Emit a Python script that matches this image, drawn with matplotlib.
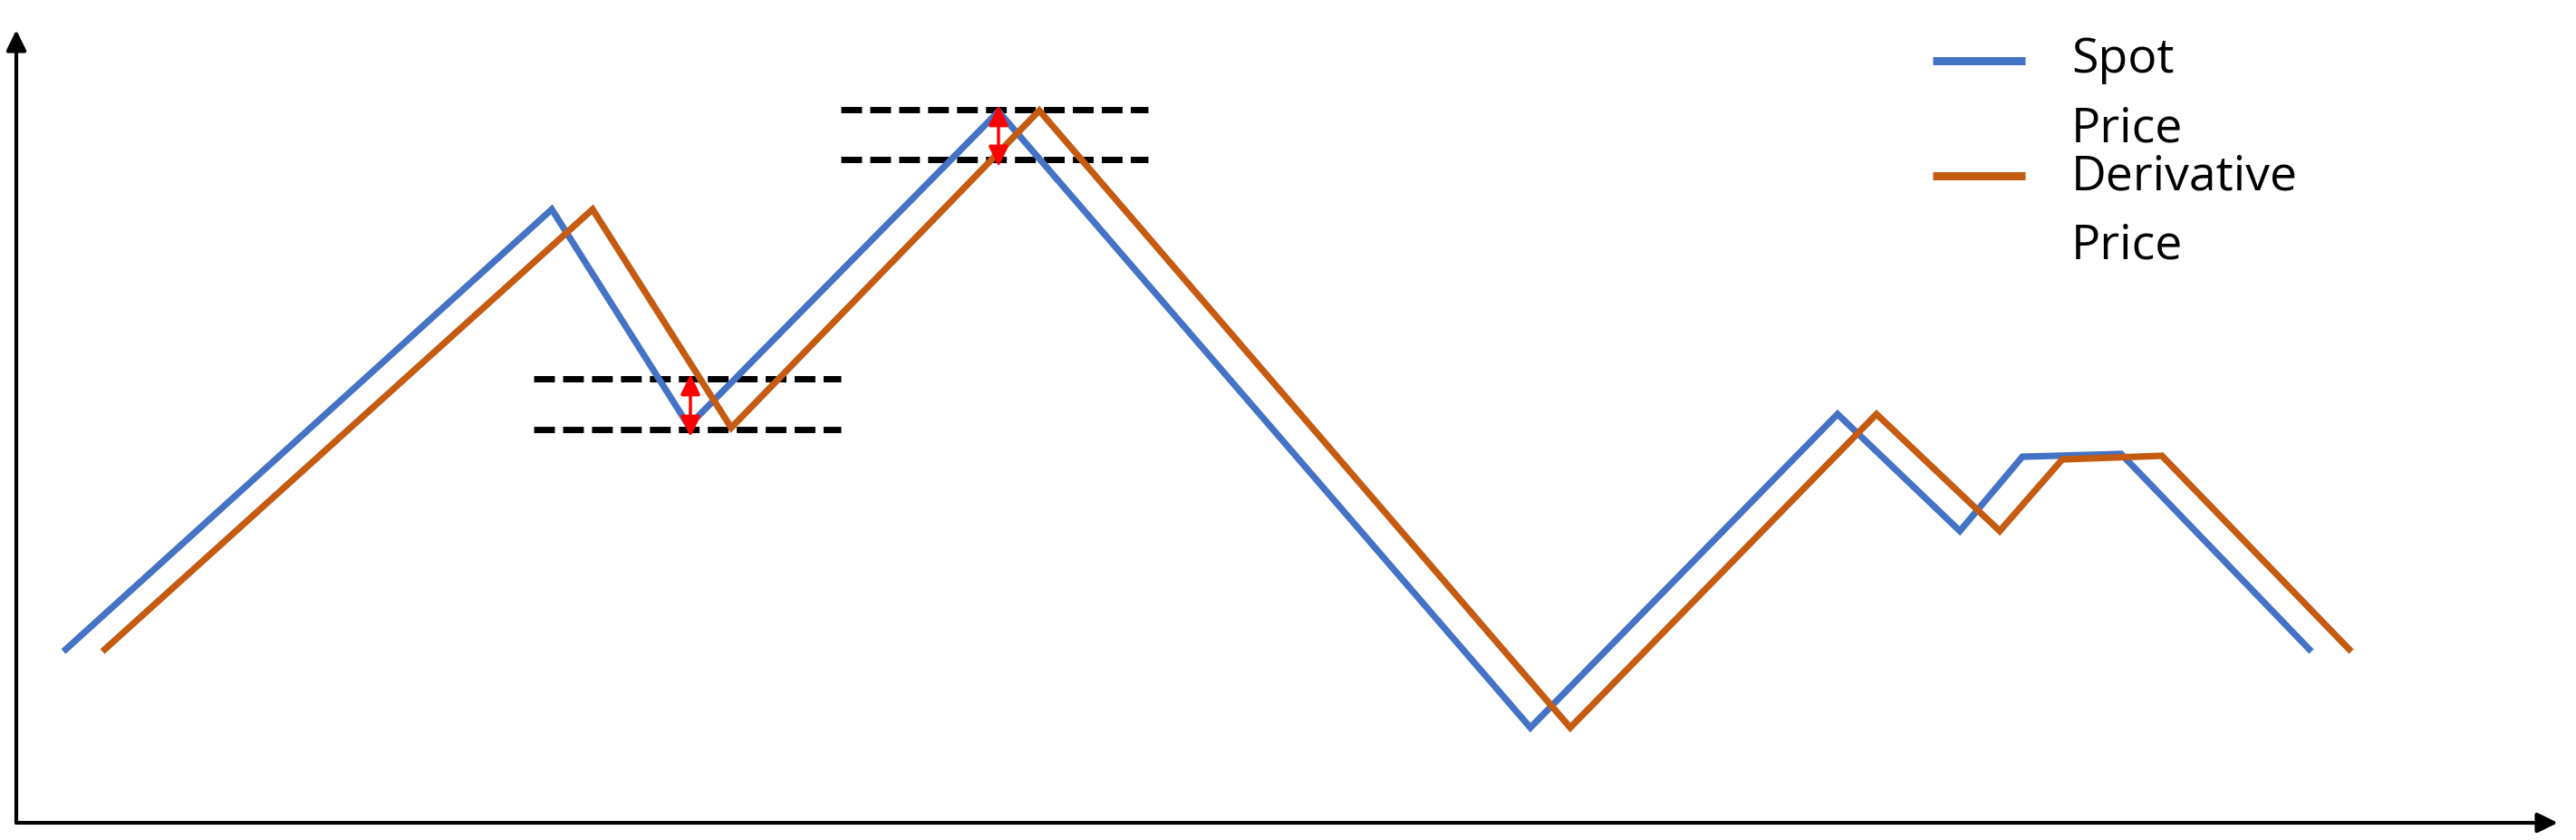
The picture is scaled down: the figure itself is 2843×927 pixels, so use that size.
import matplotlib
matplotlib.use("Agg")
import matplotlib.pyplot as plt
from matplotlib.lines import Line2D

# ---- data (time units, price units) ----
spot_t = [52, 591, 742, 1084, 1671, 2010, 2145, 2214, 2323, 2533]
spot_p = [189, 677, 438, 785, 105, 451, 322, 404, 407, 189]
deriv_t = [95, 636, 789, 1129, 1715, 2053, 2189, 2258, 2368, 2577]
deriv_p = [189, 677, 436, 786, 105, 451, 322, 401, 405, 189]

series_labels = ["Spot Price", "Derivative Price"]
series_colors = ["#4472C4", "#C55A11"]

# basis levels (dashed reference lines) and the gaps shown by red arrows
lower_levels = [490, 434]
lower_span = [571, 910]
lower_arrow_t = 744
upper_levels = [787, 732]
upper_span = [910, 1249]
upper_arrow_t = 1084

W, H = 2843, 927
fig = plt.figure(figsize=(W / 100, H / 100), dpi=100)
ax = fig.add_axes([0, 0, 1, 1])
ax.set_xlim(-18, W - 18)
ax.set_ylim(-19, H - 19)
ax.axis("off")

# axes with arrows
ax.annotate("", xy=(2805, 0), xytext=(0, 0),
            arrowprops=dict(arrowstyle="-|>,head_length=0.45,head_width=0.22",
                            lw=3, color="black", mutation_scale=30,
                            shrinkA=0, shrinkB=0))
ax.annotate("", xy=(0, 875), xytext=(0, 0),
            arrowprops=dict(arrowstyle="-|>,head_length=0.45,head_width=0.22",
                            lw=3, color="black", mutation_scale=30,
                            shrinkA=0, shrinkB=0))

# series
for t, p, c in [(spot_t, spot_p, series_colors[0]), (deriv_t, deriv_p, series_colors[1])]:
    ax.plot(t, p, color=c, lw=5.2, solid_joinstyle="miter", solid_capstyle="butt", zorder=3)

# dashed reference lines
for lev in lower_levels:
    ax.plot(lower_span, [lev, lev], color="black", lw=5, linestyle=(0, (3.3, 1.3)),
            dash_capstyle="butt", zorder=2)
for lev in upper_levels:
    ax.plot(upper_span, [lev, lev], color="black", lw=5, linestyle=(0, (3.3, 1.3)),
            dash_capstyle="butt", zorder=2)

# red double arrows
for tx, levs in [(lower_arrow_t, lower_levels), (upper_arrow_t, upper_levels)]:
    ax.annotate("", xy=(tx, levs[0] + 5), xytext=(tx, levs[1] - 8),
                arrowprops=dict(arrowstyle="<|-|>,head_length=0.45,head_width=0.22",
                                lw=2.5, color="#FF0000", mutation_scale=30,
                                shrinkA=0, shrinkB=0), zorder=4)

# legend (manual)
handle_y = [841, 714]
line_x = [2115, 2217]
text_x = 2268
first_baselines = [828, 699]
line_gap = 76
for lab, col, hy, by in zip(series_labels, series_colors, handle_y, first_baselines):
    ax.add_line(Line2D(line_x, [hy, hy], color=col, lw=6.5, solid_capstyle="butt"))
    for k, word in enumerate(lab.split(" ")):
        ax.text(text_x, by - k * line_gap, word, fontsize=38.5, family="Open Sans",
                va="baseline", ha="left", color="black")

fig.savefig("out.png", dpi=100)
